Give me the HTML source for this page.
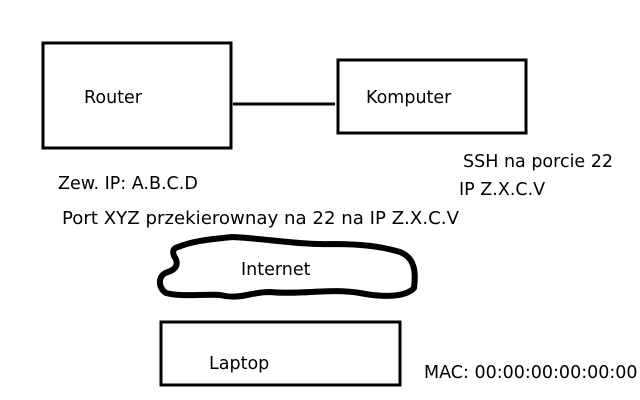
<!DOCTYPE html>
<html><head><style>body{margin:0;background:#fff}svg{display:block}text{font-family:"DejaVu Sans",sans-serif;font-size:17.5px;fill:#000}</style></head>
<body>
<svg width="640" height="400" viewBox="0 0 640 400">
<rect x="43" y="43" width="188" height="105" fill="none" stroke="#000" stroke-width="3"/>
<rect x="338" y="60" width="188" height="73" fill="none" stroke="#000" stroke-width="3"/>
<line x1="233" y1="104" x2="335" y2="104" stroke="#000" stroke-width="3"/>
<rect x="161" y="322" width="239" height="63" fill="none" stroke="#000" stroke-width="3"/>
<path d="M178,247 C195,240 215,239 232,237 C260,238 300,245 330,244 C360,244 380,246 400,252 C415,258 416,272 414,288 C405,298 380,297 360,293 C330,288 300,295 270,292 C250,292 240,300 220,295 C200,294 180,297 166,293 C158,288 157,275 168,272 C180,268 177,260 174,256 C172,250 174,248 178,247 Z" fill="none" stroke="#000" stroke-width="6" stroke-linejoin="round"/>
<text x="84" y="103">Router</text>
<text x="366" y="103">Komputer</text>
<text x="58" y="189">Zew. IP: A.B.C.D</text>
<text x="62" y="224" textLength="397" lengthAdjust="spacingAndGlyphs">Port XYZ przekierownay na 22 na IP Z.X.C.V</text>
<text x="463" y="167">SSH na porcie 22</text>
<text x="459" y="195">IP Z.X.C.V</text>
<text x="241" y="275">Internet</text>
<text x="209" y="369">Laptop</text>
<text x="424" y="378">MAC: 00:00:00:00:00:00</text>
</svg>
</body></html>
